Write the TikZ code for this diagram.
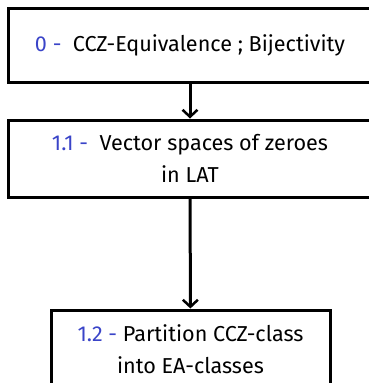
\documentclass[tikz,border=0pt]{standalone}
\usepackage{fontspec}
\setmainfont{Fira Sans}
\usetikzlibrary{arrows.meta,positioning}
\definecolor{stepnum}{RGB}{58,68,200}

\begin{document}
\begin{tikzpicture}[x=1pt,y=1pt,
    box/.style={draw,line width=3pt,align=center,inner sep=0pt,
                font=\fontsize{21.6}{32.5}\selectfont},
    link/.style={line width=3pt,-{Straight Barb[length=7pt,width=15pt,line width=2.5pt]}}]
    \useasboundingbox (0,0) rectangle (369,-383);
    \clip (0,0) rectangle (369,-383);
%    boxes, the picture is cut on the right and at the bottom
    \node[box,minimum width=364pt,minimum height=74pt] (ccz) at (190,-45)
        {\textcolor{stepnum}{0 -}\ \ CCZ-Equivalence ; Bijectivity};
    \node[box,minimum width=364pt,minimum height=77pt] (vect) at (190,-158.5)
        {\textcolor{stepnum}{1.1 -}\ \ Vector spaces of zeroes\\in LAT};
    \node[box,minimum width=279pt,minimum height=78pt] (part) at (190.5,-349)
        {\textcolor{stepnum}{1.2 -} Partition CCZ-class\\into EA-classes};
    \draw[link] (ccz) -- (vect);
    \draw[link] (vect) -- (part);
\end{tikzpicture}
\end{document}
